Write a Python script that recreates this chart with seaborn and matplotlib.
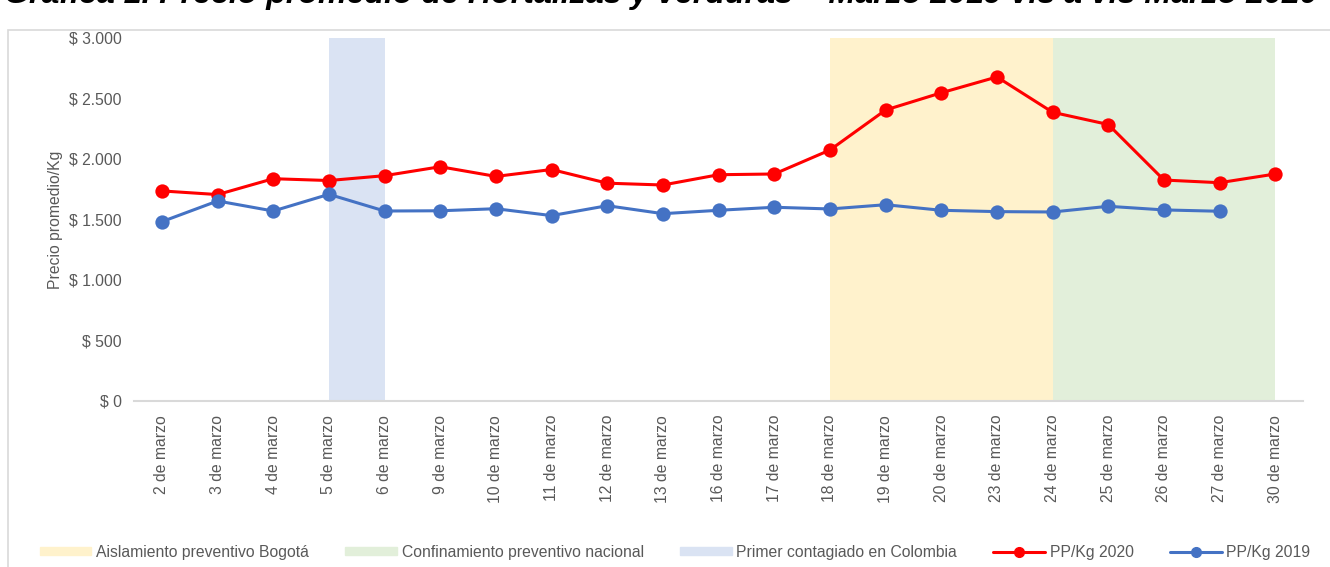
import pandas as pd
import numpy as np
import matplotlib
matplotlib.use("Agg")
import matplotlib.pyplot as plt
import matplotlib.patches as mpatches
from matplotlib.lines import Line2D
import seaborn as sns

fechas = ["2 de marzo", "3 de marzo", "4 de marzo", "5 de marzo", "6 de marzo",
          "9 de marzo", "10 de marzo", "11 de marzo", "12 de marzo", "13 de marzo",
          "16 de marzo", "17 de marzo", "18 de marzo", "19 de marzo", "20 de marzo",
          "23 de marzo", "24 de marzo", "25 de marzo", "26 de marzo", "27 de marzo",
          "30 de marzo"]
pp_2020 = [1736, 1706, 1837, 1822, 1862, 1936, 1856, 1913, 1800, 1785,
           1870, 1876, 2074, 2405, 2547, 2678, 2386, 2285, 1826, 1804, 1876]
pp_2019 = [1482, 1653, 1570, 1708, 1570, 1572, 1589, 1532, 1614, 1548,
           1576, 1601, 1587, 1622, 1576, 1565, 1562, 1609, 1579, 1568, np.nan]

# periodos sombreados
primer_contagio = ("5 de marzo", "6 de marzo")
aislamiento = ("18 de marzo", "24 de marzo")
confinamiento = ("24 de marzo", "30 de marzo")

sns.set_style("white")
plt.rcParams['font.family'] = ['Liberation Sans', 'DejaVu Sans']

df = pd.DataFrame({'x': list(range(len(fechas))) * 2,
                   'precio': pp_2020 + pp_2019,
                   'serie': ['PP/Kg 2020'] * len(fechas) + ['PP/Kg 2019'] * len(fechas)})

fig = plt.figure(figsize=(13.3, 5.67), dpi=100)
ax = fig.add_axes([0.1008, 0.2928, 0.879, 0.6402])

gris = '#595959'
fs = 11.3
c_amarillo, c_verde, c_azul = '#FFF2CC', '#E2EFDA', '#DAE3F3'
ax.axvspan(fechas.index(primer_contagio[0]), fechas.index(primer_contagio[1]), color=c_azul, lw=0, zorder=0)
ax.axvspan(fechas.index(aislamiento[0]), fechas.index(aislamiento[1]), color=c_amarillo, lw=0, zorder=0)
ax.axvspan(fechas.index(confinamiento[0]), fechas.index(confinamiento[1]), color=c_verde, lw=0, zorder=0)

sns.lineplot(data=df, x='x', y='precio', hue='serie', palette={'PP/Kg 2020': '#FF0000', 'PP/Kg 2019': '#4472C4'},
             marker='o', markersize=10.3, markeredgewidth=0, linewidth=2.2, legend=False, ax=ax, zorder=3)

ax.set_xlim(-0.5, len(fechas) - 0.5)
ax.set_ylim(0, 3000)
ax.set_xticks(range(len(fechas)))
ax.set_xticklabels(fechas, rotation=90, fontsize=fs, color=gris)
yt = [0, 500, 1000, 1500, 2000, 2500, 3000]
ax.set_yticks(yt)
ax.set_yticklabels([f"$ {v:,}".replace(",", ".") for v in yt], fontsize=fs, color=gris)
ax.tick_params(axis='y', length=0, pad=9)
ax.tick_params(axis='x', length=0, pad=10)
ax.set_xlabel('')
ax.set_ylabel('Precio promedio/Kg', fontsize=fs, color=gris, labelpad=4)
for s in ['top', 'right', 'left']:
    ax.spines[s].set_visible(False)
ax.spines['bottom'].set_color('#d9d9d9')
ax.spines['bottom'].set_linewidth(1.5)

handles = [mpatches.Patch(color=c_amarillo, label='Aislamiento preventivo Bogotá'),
           mpatches.Patch(color=c_verde, label='Confinamiento preventivo nacional'),
           mpatches.Patch(color=c_azul, label='Primer contagiado en Colombia'),
           Line2D([], [], color='#FF0000', marker='o', markersize=7, lw=2.2, label='PP/Kg 2020'),
           Line2D([], [], color='#4472C4', marker='o', markersize=7, lw=2.2, label='PP/Kg 2019')]
leg = fig.legend(handles=handles, loc='center', bbox_to_anchor=(0.5075, 0.026), ncol=5, frameon=False,
                 fontsize=fs, handlelength=3.3, handleheight=0.45, columnspacing=2.3, handletextpad=0.3)
for t in leg.get_texts():
    t.set_color(gris)

# marco del grafico
fig.add_artist(mpatches.Rectangle((0.006, -0.05), 1.1, 0.997, transform=fig.transFigure,
                                  fill=False, edgecolor='#d9d9d9', lw=1.2))

fig.text(0.991, 1 - 3 / 567, 'Gráfica 1. Precio promedio de Hortalizas y verduras – Marzo 2019 vis à vis Marzo 2020',
         ha='right', va='baseline', fontsize=23.1, fontweight='bold', fontstyle='italic', color='black')

plt.savefig("out.png", dpi=100)
